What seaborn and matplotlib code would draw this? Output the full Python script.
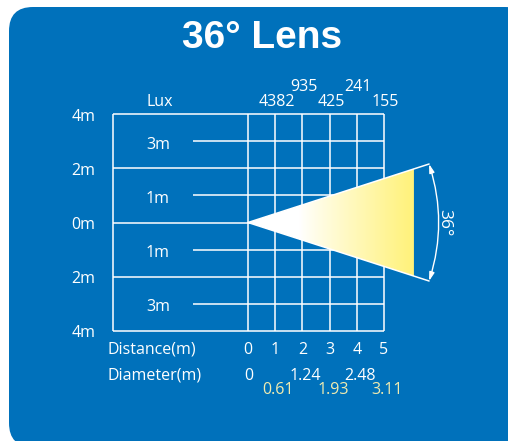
import numpy as np
import matplotlib
matplotlib.use("Agg")
import matplotlib.pyplot as plt
import seaborn as sns
import pandas as pd
from matplotlib.patches import FancyBboxPatch, Polygon
from matplotlib.colors import LinearSegmentedColormap

# ---------------- data ----------------
title = "36° Lens"
beam_angle = 36
distances = [0, 1, 2, 3, 4, 5]
distance_labels = ["0", "1", "2", "3", "4", "5"]
lux_distances = [1, 2, 3, 4, 5]
lux_values = [4382, 935, 425, 241, 155]
diameter_values = [0, 0.61, 1.24, 1.93, 2.48, 3.11]
lateral_major = [4, 2, 0, -2, -4]
lateral_major_labels = ["4m", "2m", "0m", "2m", "4m"]
lateral_minor = [3, 1, -1, -3]
lateral_minor_labels = ["3m", "1m", "1m", "3m"]

BLUE = "#0071BB"
YELLOW = "#FFF27A"
PALE = "#F0EBB0"
LABEL_FONT = ["Open Sans", "DejaVu Sans"]

sns.set_theme(style="white")
plt.rcParams["font.family"] = LABEL_FONT

W, H = 508, 441
fig = plt.figure(figsize=(W / 100, H / 100), dpi=100)
fig.patch.set_facecolor("white")

# background panel (pixel space)
bg = fig.add_axes([0, 0, 1, 1])
bg.set_xlim(0, W)
bg.set_ylim(H, 0)
bg.axis("off")
bg.add_patch(FancyBboxPatch((9, 7), 520, 440, boxstyle="round,pad=0,rounding_size=24",
                            fc=BLUE, ec="none"))

# main axes in metres
sx, sy = 27.2, 27.04
ox, oy = 248, 222.5
ax = fig.add_axes([0, 0, 1, 1])
ax.set_facecolor("none")
ax.set_xlim(-ox / sx, (W - ox) / sx)
ax.set_ylim((oy - H) / sy, oy / sy)
ax.axis("off")

grid_left = -4.96
gkw = dict(color="white", lw=1.1, zorder=2)
ax.hlines(lateral_major, grid_left, distances[-1], **gkw)
ax.vlines([grid_left], lateral_major[-1], lateral_major[0], **gkw)
ax.hlines(lateral_minor, -2.02, distances[-1], **gkw)
ax.vlines(distances, lateral_major[-1], lateral_major[0], **gkw)

# beam cone
half = np.deg2rad(beam_angle / 2)
fill_end = 6.1
tri = Polygon([(0, 0), (fill_end, fill_end * np.tan(half)), (fill_end, -fill_end * np.tan(half))],
              closed=True, fc="none", ec="none")
ax.add_patch(tri)
grad_x = np.linspace(0, fill_end, 300)
grad = np.clip((grad_x - 1.9) / (fill_end - 1.9), 0, 1) ** 0.9
cmap = LinearSegmentedColormap.from_list("beam", ["white", YELLOW])
img = ax.imshow(grad[np.newaxis, :], cmap=cmap, vmin=0, vmax=1, aspect="auto",
                extent=[0, fill_end, -2.2, 2.2], zorder=3, interpolation="bilinear")
img.set_clip_path(tri)

r = 7.0
edge = pd.DataFrame({"x": [0, r * np.cos(half), 0, r * np.cos(half)],
                     "y": [0, r * np.sin(half), 0, -r * np.sin(half)],
                     "side": ["top", "top", "bottom", "bottom"]})
sns.lineplot(data=edge, x="x", y="y", units="side", estimator=None, sort=False,
             color="white", lw=1.1, ax=ax, zorder=4, legend=False)

ax.annotate("", xy=(r * np.cos(half), -r * np.sin(half)), xytext=(r * np.cos(half), r * np.sin(half)),
            arrowprops=dict(arrowstyle="<|-|>,head_length=0.5,head_width=0.15", color="white",
                            lw=1.0, shrinkA=0, shrinkB=0, mutation_scale=10,
                            connectionstyle="arc3,rad=-0.158"), zorder=4)
ax.text(7.22, 0, f"{beam_angle}°", rotation=-90, ha="center", va="center",
        color="white", fontsize=12.5, zorder=5)

# texts
fs = 11.5
ax.text(0.52, 6.45, title, ha="center", va="baseline", color="white", fontsize=28,
        fontweight="bold", family=["Liberation Sans", "DejaVu Sans"])

for y, lab in zip(lateral_major, lateral_major_labels):
    ax.text(-5.62, y - 0.08, lab, ha="right", va="center", color="white", fontsize=fs)
for y, lab in zip(lateral_minor, lateral_minor_labels):
    ax.text(-3.31, y - 0.12, lab, ha="center", va="center", color="white", fontsize=fs)

ax.text(-3.24, 4.46, "Lux", ha="center", va="center", color="white", fontsize=fs)
for i, (d, v) in enumerate(zip(lux_distances, lux_values)):
    yy = 4.46 if i % 2 == 0 else 5.02
    ax.text(d + 0.05, yy, str(v), ha="center", va="center", color="white", fontsize=fs)

ax.text(-5.18, -4.7, "Distance(m)", ha="left", va="center", color="white", fontsize=fs)
ax.text(-5.18, -5.66, "Diameter(m)", ha="left", va="center", color="white", fontsize=fs)
for d, lab in zip(distances, distance_labels):
    ax.text(d, -4.7, lab, ha="center", va="center", color="white", fontsize=fs)
for i, (d, v) in enumerate(zip(distances, diameter_values)):
    if i % 2 == 0:
        ax.text(d + (0.1 if v else 0.02), -5.66, f"{v:g}", ha="center", va="center",
                color="white", fontsize=fs)
    else:
        ax.text(d + 0.12, -6.2, f"{v:g}", ha="center", va="center",
                color=PALE, fontsize=fs)

fig.savefig("out.png", dpi=100)
